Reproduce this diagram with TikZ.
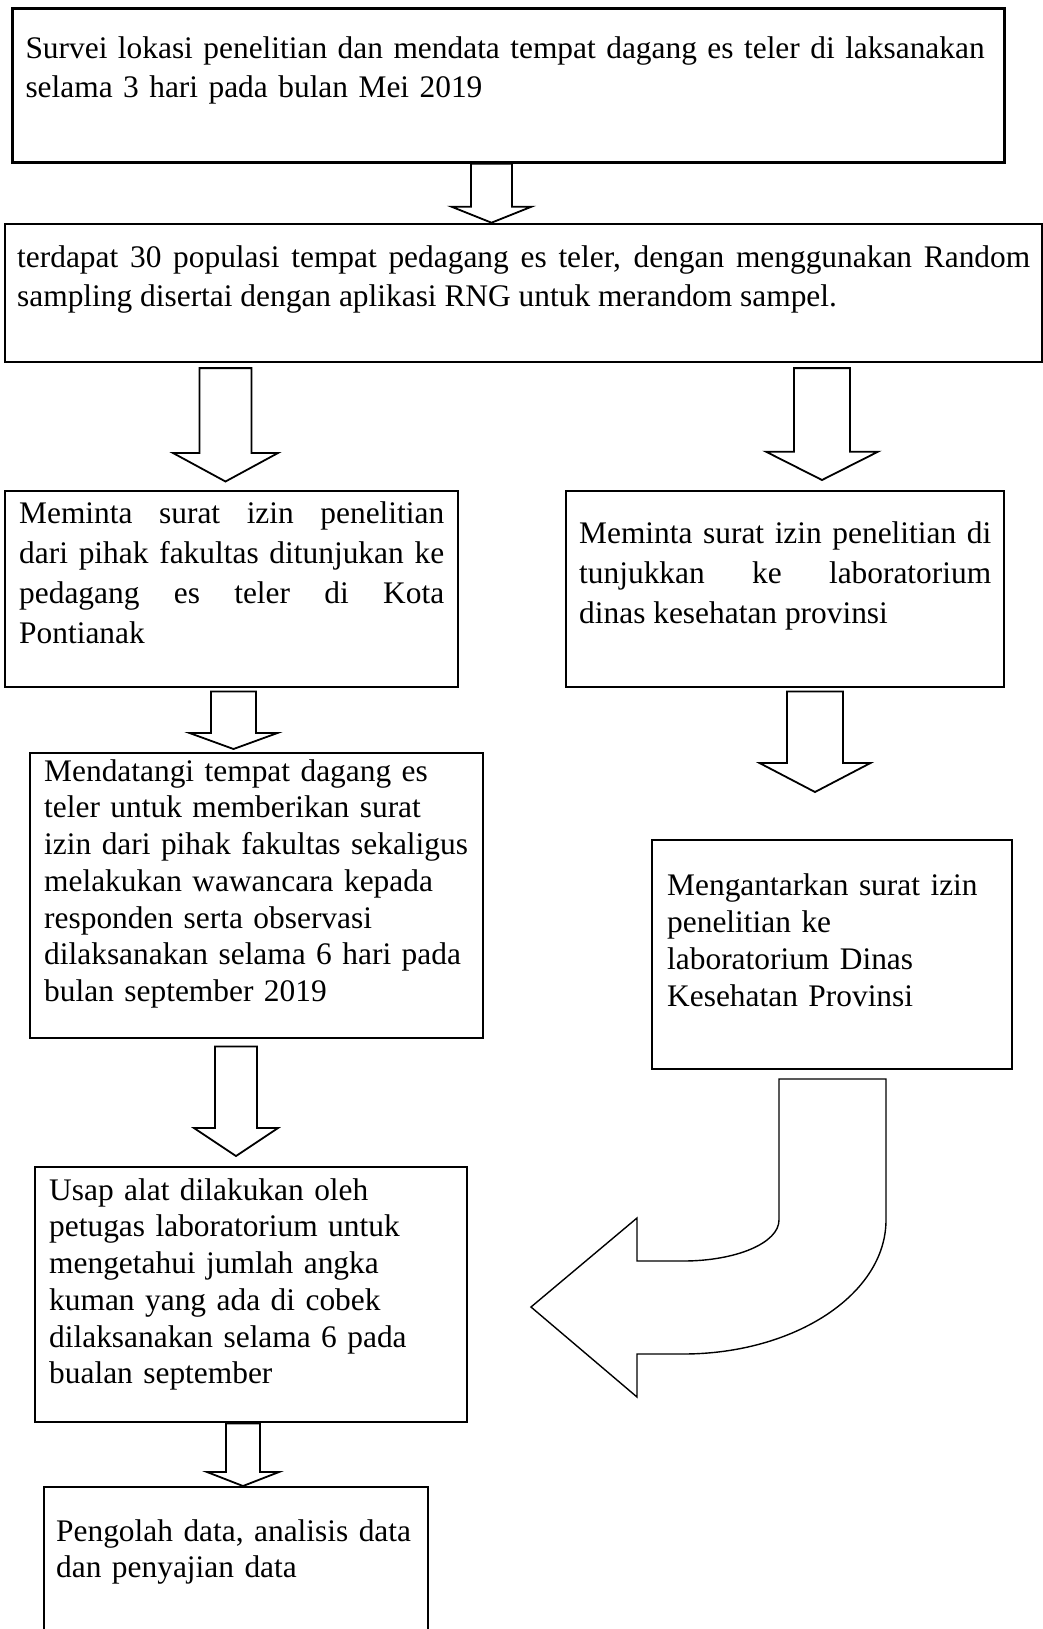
\documentclass[tikz,border=0pt]{standalone}
\usepackage{fontspec}
\setmainfont{Liberation Serif}
\usetikzlibrary{calc}
\hyphenpenalty=10000
\exhyphenpenalty=10000

\newcommand{\blockdown}[5]{%
  \draw[blockarrow] ($(#1)+(-#3,0)$) -- ($(#2)+(-#3,-#5)$) -- ($(#2)+(-#4,-#5)$) -- (#2)
    -- ($(#2)+(#4,-#5)$) -- ($(#2)+(#3,-#5)$) -- ($(#1)+(#3,0)$) -- cycle;}

\begin{document}
\begin{tikzpicture}[x=0.5pt, y=-0.5pt,
        box/.style={draw, line width=1.2pt, anchor=north west, inner ysep=0pt,
                    font=\fontsize{15.7}{19.5}\selectfont, align=left},
        blockarrow/.style={draw, line width=0.9pt, line join=miter, fill=white}
    ]
        \useasboundingbox (0,0) rectangle (1043,1629);
        \clip (0,0) rectangle (1043,1629);

        \node[box, inner xsep=6.5pt, text width=483pt, text height=25pt, text depth=52pt] (survei) at (11.3,7.3)
            {Survei lokasi penelitian dan mendata tempat dagang es teler di laksanakan\\ selama 3 hari pada bulan Mei 2019};
        \node[box, align=justify, inner xsep=6pt, text width=506.5pt, text height=22pt, text depth=47pt] (populasi) at (4,222.7)
            {terdapat 30 populasi tempat pedagang es teler, dengan menggunakan Random\linebreak{} sampling disertai dengan aplikasi RNG untuk merandom sampel.};
        \node[box, align=justify, font=\fontsize{15.7}{20}\selectfont, inner xsep=7pt, text width=212.5pt, text height=16pt, text depth=82pt] (izinfak) at (4,490)
            {Meminta surat izin penelitian\linebreak{} dari pihak fakultas ditunjukan ke\linebreak{} pedagang es teler di Kota\linebreak{} Pontianak};
        \node[box, align=justify, font=\fontsize{15.7}{20}\selectfont, inner xsep=6.5pt, text width=206pt, text height=26pt, text depth=72pt] (izinlab) at (565,490)
            {Meminta surat izin penelitian di\linebreak{} tunjukkan ke laboratorium\linebreak{} dinas kesehatan provinsi};
        \node[box, font=\fontsize{15.7}{18.35}\selectfont, inner xsep=7pt, text width=212.5pt, text height=14pt, text depth=128.5pt] (datang) at (29,752)
            {Mendatangi tempat dagang es\\ teler untuk memberikan surat\\ izin dari pihak fakultas sekaligus\\ melakukan wawancara kepada\\ responden serta observasi\\ dilaksanakan selama 6 hari pada\\ bulan september 2019};
        \node[box, font=\fontsize{15.7}{18.5}\selectfont, inner xsep=7.5pt, text width=165pt, text height=27.5pt, text depth=87pt] (antar) at (651,839)
            {Mengantarkan surat izin\\ penelitian ke\\ laboratorium Dinas\\ Kesehatan Provinsi};
        \node[box, font=\fontsize{15.7}{18.35}\selectfont, inner xsep=7pt, text width=202pt, text height=16.5pt, text depth=111pt] (usap) at (34,1166)
            {Usap alat dilakukan oleh\\ petugas laboratorium untuk\\ mengetahui jumlah angka\\ kuman yang ada di cobek\\ dilaksanakan selama 6 pada\\ bualan september};
        \node[box, font=\fontsize{15.7}{18.35}\selectfont, inner xsep=6pt, text width=180pt, text height=27pt, text depth=58pt] (olah) at (43,1486)
            {Pengolah data, analisis data\\ dan penyajian data};

        \coordinate (a1top) at (survei.south -| 491.5,0);
        \coordinate (a1tip) at (populasi.north -| 491.5,0);
        \coordinate (a2top) at ($(populasi.south -| 225.5,0)+(0,5)$);
        \coordinate (a2tip) at ($(izinfak.north -| 225.5,0)+(0,-8.5)$);
        \coordinate (a3top) at ($(populasi.south -| 822,0)+(0,5)$);
        \coordinate (a3tip) at ($(izinlab.north -| 822,0)+(0,-10)$);
        \coordinate (a4top) at ($(izinfak.south -| 233.5,0)+(0,3)$);
        \coordinate (a4tip) at ($(datang.north -| 233.5,0)+(0,-3)$);
        \coordinate (a5top) at ($(izinlab.south -| 815,0)+(0,3)$);
        \coordinate (a5tip) at ($(antar.north -| 815,0)+(0,-47)$);
        \coordinate (a6top) at ($(datang.south -| 236,0)+(0,7)$);
        \coordinate (a6tip) at ($(usap.north -| 236,0)+(0,-10)$);
        \coordinate (a7top) at (usap.south -| 243,0);
        \coordinate (a7tip) at (olah.north -| 243,0);

        \blockdown{a1top}{a1tip}{20.5}{40}{16}
        \blockdown{a2top}{a2tip}{26}{52.5}{28.5}
        \blockdown{a3top}{a3tip}{28}{56}{28.3}
        \blockdown{a4top}{a4tip}{22.5}{44}{16}
        \blockdown{a5top}{a5tip}{28}{55.5}{29}
        \blockdown{a6top}{a6tip}{21}{42}{28}
        \blockdown{a7top}{a7tip}{17}{36}{14}

        \draw[blockarrow, line width=0.7pt] (779,1079) -- (886,1079) -- (886,1220)
            .. controls (886,1294) and (795,1354) .. (683,1354) -- (637,1354) -- (637,1397)
            -- (531,1307) -- (637,1218) -- (637,1261) -- (683,1261)
            .. controls (736,1261) and (779,1243) .. (779,1220) -- cycle;
\end{tikzpicture}
\end{document}
